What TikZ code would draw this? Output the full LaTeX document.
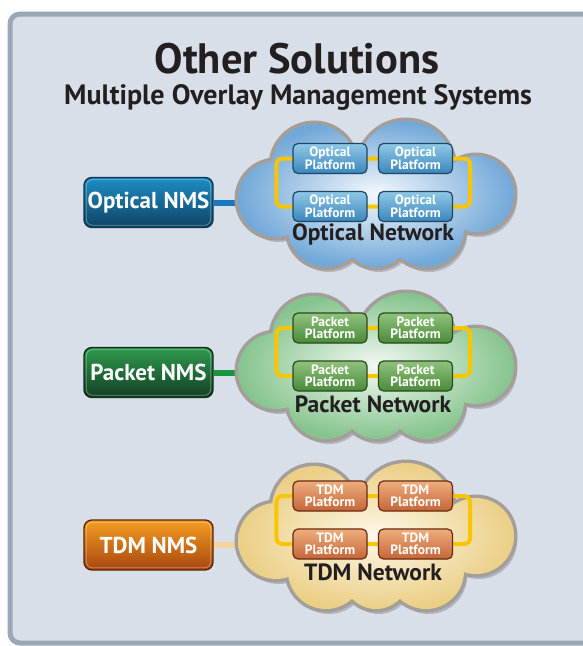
\documentclass[tikz,border=0pt]{standalone}
\usepackage{fontspec}
\setmainfont{PT Sans}
\usetikzlibrary{calc}
\definecolor{panelbg}{HTML}{D8DFE8}
\definecolor{panelbd}{HTML}{9AA7B6}
\definecolor{cloudbd}{HTML}{A39E9A}
\definecolor{ringy}{HTML}{F7C600}
\definecolor{txtdark}{HTML}{231F20}
% optical
\definecolor{oBtnL}{HTML}{1E8CC4}\definecolor{oBtnR}{HTML}{0F4466}\definecolor{oBtnBd}{HTML}{0C3550}
\definecolor{oPlT}{HTML}{8FC8E8}\definecolor{oPlB}{HTML}{3A86BA}\definecolor{oPlBd}{HTML}{1D4766}
\definecolor{oCl}{HTML}{72A8D8}\definecolor{oClC}{HTML}{F4F8FC}\definecolor{oLn}{HTML}{1A78C2}
% packet
\definecolor{pBtnL}{HTML}{2E9A4E}\definecolor{pBtnR}{HTML}{143F24}\definecolor{pBtnBd}{HTML}{0F2E18}
\definecolor{pPlT}{HTML}{90C27C}\definecolor{pPlB}{HTML}{4A8A3A}\definecolor{pPlBd}{HTML}{2A4A20}
\definecolor{pCl}{HTML}{86C48E}\definecolor{pClC}{HTML}{F2F9F2}\definecolor{pLn}{HTML}{16963E}
% tdm
\definecolor{tBtnL}{HTML}{F29E22}\definecolor{tBtnR}{HTML}{A9450E}\definecolor{tBtnBd}{HTML}{5E2608}
\definecolor{tPlT}{HTML}{EEAE7C}\definecolor{tPlB}{HTML}{C6653A}\definecolor{tPlBd}{HTML}{6A2A10}
\definecolor{tCl}{HTML}{EBCF86}\definecolor{tClC}{HTML}{FDF8EA}\definecolor{tLn}{HTML}{F4D49C}
\tikzset{
  btn/.style={rounded corners=8pt, draw=#1BtnBd, line width=1.4pt,
    left color=#1BtnL, right color=#1BtnR, shading angle=0,
    minimum width=129pt, minimum height=50pt, text=white,
    font=\bfseries\fontsize{23}{25}\selectfont, inner sep=0pt},
  gloss/.style={draw=white, opacity=0.35, line width=0.8pt, rounded corners=6pt},
  plat/.style={rounded corners=5pt, draw=#1PlBd, line width=1.2pt,
    top color=#1PlT, bottom color=#1PlB,
    minimum width=74pt, minimum height=30pt, text=white, align=center,
    font=\bfseries\fontsize{13.5}{12}\selectfont, inner sep=0pt},
  ring/.style={draw=ringy, line width=4pt, rounded corners=6pt},
  link/.style={line width=6pt, draw=#1},
  nettxt/.style={text=txtdark, font=\bfseries\fontsize{23.5}{25}\selectfont},
}
\newcommand\cloudshape[1]{%
  (#1) +(0,5) ellipse [x radius=110, y radius=50]
  (#1) +(-62,-28) circle [radius=42]
  (#1) +(30,-25) circle [radius=48]
  (#1) +(100,0) circle [radius=38]
  (#1) +(-100,5) circle [radius=38]
  (#1) +(-50,35) circle [radius=38]
  (#1) +(50,35) circle [radius=38]
  (#1) +(0,40) circle [radius=33]}
% #1 key letter, #2 cloud center y, #3 button y, #4 row1 y, #5 row2 y, #6 name
\newcommand\netblock[6]{%
  \coordinate (#1c) at (376,#2);
  \node[btn=#1] (#1btn) at (148.5,#3) {#6 NMS};
  \draw[gloss] ($(#1btn.south west)+(3,-3)$) rectangle ($(#1btn.north east)+(-3,3)$);
  \coordinate (#1end) at (265,#3);
  \begin{pgfonlayer}{cloudlayer}
    \draw[link=#1Ln] (#1btn.east) -- (#1end);
    \fill[black, opacity=0.18] \cloudshape{$(#1c)+(3,5)$};
    \draw[cloudbd, line width=7pt] \cloudshape{#1c};
    \shade[inner color=#1ClC, outer color=#1Cl] \cloudshape{#1c};
  \end{pgfonlayer}
  \node[plat=#1] (#1p1) at (330,#4) {#6\\Platform};
  \node[plat=#1] (#1p2) at (415.5,#4) {#6\\Platform};
  \node[plat=#1] (#1p3) at (330,#5) {#6\\Platform};
  \node[plat=#1] (#1p4) at (415.5,#5) {#6\\Platform};
  \begin{pgfonlayer}{ringlayer}
    \draw[ring] ($(#1p1.west)+(-16,0)$) rectangle ($(#1p4.east)+(17,0)$);
  \end{pgfonlayer}
  \node[nettxt] (#1net) at (373,#5+28) {#6 Network};
}
\pgfdeclarelayer{panellayer}
\pgfdeclarelayer{cloudlayer}
\pgfdeclarelayer{ringlayer}
\pgfsetlayers{panellayer,cloudlayer,ringlayer,main}
\begin{document}
\begin{tikzpicture}[x=1pt,y=-1pt]
\useasboundingbox (0,0) rectangle (582,646);
\begin{pgfonlayer}{panellayer}
\fill[white] (0,0) rectangle (582,646);
\draw[fill=panelbg, draw=panelbd, line width=5pt, rounded corners=10pt] (10,14) rectangle (600,643);
\end{pgfonlayer}
\node[text=txtdark, font=\bfseries\fontsize{42.5}{44}\selectfont] (title) at (297,59) {Other Solutions};
\node[text=txtdark, font=\bfseries\fontsize{28}{30}\selectfont] (subtitle) at (298,97) {Multiple Overlay Management Systems};
\netblock{o}{194}{202.5}{158.5}{206.5}{Optical}
\netblock{p}{366}{372.5}{328}{376}{Packet}
\netblock{t}{536}{545}{496}{544}{TDM}
\end{tikzpicture}
\end{document}
